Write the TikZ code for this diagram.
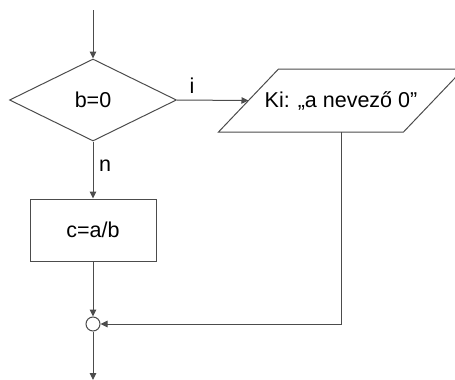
\documentclass[tikz,border=0pt]{standalone}
\usepackage{fontspec}
\setmainfont{Liberation Sans}
\usetikzlibrary{shapes.geometric,arrows.meta,calc}
\begin{document}
\begin{tikzpicture}[x=1pt,y=-1pt,
  line width=1pt,
  every node/.style={font=\fontsize{21.5}{25}\selectfont, text=black},
  flow/.style={draw=black!70, line width=1pt},
  arr/.style={flow, -{Triangle[length=7pt,width=6.5pt]}},
  decision/.style={flow, diamond, inner sep=0pt, minimum width=167pt, minimum height=82pt},
  process/.style={flow, rectangle, inner sep=0pt, minimum width=126pt, minimum height=62pt},
  iobox/.style={rectangle, inner sep=0pt, minimum width=184pt, minimum height=62pt},
  junction/.style={flow, circle, inner sep=0pt, minimum size=14pt, fill=white},
  lbl/.style={inner sep=0pt}]
\useasboundingbox (0,0) rectangle (455,380);
\clip (0,0) rectangle (455,380);

\coordinate (start) at (93,10);
\node[decision] (dec) at (93,100) {b=0};
\node[iobox] (ki) at (341,100.5) {Ki: „a nevező 0”};
% slanted output box around the text node
\draw[flow] ($(ki.south west)+(-30,0)$) -- ($(ki.south east)+(-30,0)$)
  -- ($(ki.north east)+(30,0)$) -- ($(ki.north west)+(30,0)$) -- cycle;
\node[process] (calc) at (93,230) {c=a/b};
\node[junction] (join) at (93,324) {};
\coordinate (finish) at (93,380);

\node[lbl] (yes) at (192,86) {i};
\node[lbl] (no) at (105,166) {n};

\draw[arr] (start) -- (dec.north);
\draw[arr] (dec.east) -- (ki.west);
\draw[arr] (dec.south) -- (calc.north);
\draw[arr] (calc.south) -- (join.north);
\draw[arr] (ki.south) |- (join.east);
\draw[arr] (join.south) -- (finish);
\end{tikzpicture}
\end{document}
